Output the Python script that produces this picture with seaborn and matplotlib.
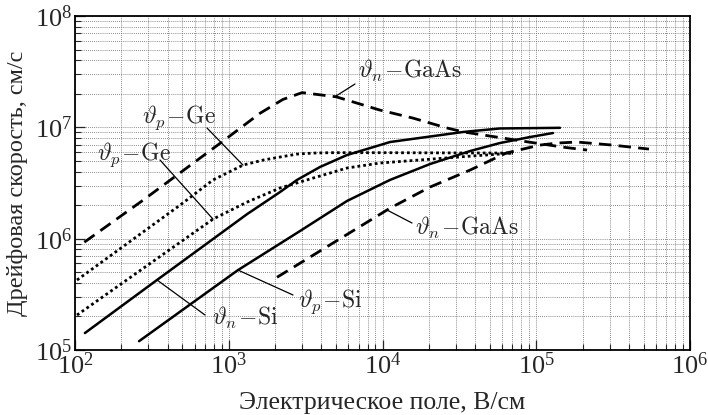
import numpy as np
import pandas as pd
import matplotlib
matplotlib.use("Agg")
import matplotlib.pyplot as plt
import seaborn as sns

# Electric field (V/cm) and drift velocity (cm/s) for each curve
gaas_n_upper_E = [115, 275, 880, 1600, 2250, 3000, 5000, 9600, 15800, 26000, 33500, 88000, 154000, 214000]
gaas_n_upper_v = [9.3e5, 2.2e6, 7.2e6, 1.34e7, 1.78e7, 2.05e7, 1.88e7, 1.43e7, 1.21e7, 9.9e6, 9.1e6, 7.4e6, 6.6e6, 6.25e6]

gaas_n_lower_E = [2060, 11200, 20400, 37100, 63500, 105700, 138400, 184100, 311200, 540800]
gaas_n_lower_v = [4.5e5, 1.88e6, 2.91e6, 4.13e6, 5.87e6, 6.93e6, 7.23e6, 7.38e6, 6.93e6, 6.38e6]

ge_upper_E = [103, 482, 791, 1239, 1671, 2153, 2780, 3532, 4560, 9638, 70600]
ge_upper_v = [4.25e5, 2.0e6, 3.37e6, 4.58e6, 5.08e6, 5.41e6, 5.75e6, 5.87e6, 5.92e6, 5.92e6, 5.87e6]

ge_lower_E = [103, 791, 1315, 2153, 3532, 5875, 9638, 33400, 70600]
ge_lower_v = [2.06e5, 1.5e6, 2.13e6, 2.85e6, 3.5e6, 4.31e6, 4.78e6, 5.45e6, 5.87e6]

si_n_E = [116, 341, 1315, 2153, 2780, 3917, 5875, 9638, 11190, 33400, 58000, 142600]
si_n_v = [1.42e5, 4.25e5, 1.66e6, 2.62e6, 3.37e6, 4.4e6, 5.64e6, 6.93e6, 7.38e6, 9.08e6, 9.77e6, 9.9e6]

si_p_E = [261, 1148, 2904, 5875, 11190, 20370, 37070, 58070, 90990, 128500]
si_p_v = [1.2e5, 5.22e5, 1.17e6, 2.18e6, 3.37e6, 4.68e6, 6.12e6, 7.23e6, 8.18e6, 8.89e6]

x_label = "Электрическое поле, В/см"
y_label = "Дрейфовая скорость, см/с"

sns.set_style("ticks")
plt.rcParams["mathtext.fontset"] = "cm"
plt.rcParams["font.family"] = ["Liberation Serif", "DejaVu Serif"]

fig = plt.figure(figsize=(7.08, 4.15), dpi=100)
ax = fig.add_axes([75 / 708, 1 - 350 / 415, 615 / 708, 334 / 415])

dash = (0, (4.5, 2.6))
dots = (0, (1.0, 1.1))
curves = [
    (gaas_n_upper_E, gaas_n_upper_v, dash, 2.0),
    (gaas_n_lower_E, gaas_n_lower_v, dash, 2.0),
    (ge_upper_E, ge_upper_v, dots, 2.0),
    (ge_lower_E, ge_lower_v, dots, 2.0),
    (si_n_E, si_n_v, "-", 1.8),
    (si_p_E, si_p_v, "-", 1.8),
]
for E, v, ls, lw in curves:
    df = pd.DataFrame({"E": E, "v": v})
    sns.lineplot(data=df, x="E", y="v", ax=ax, color="black", lw=lw,
                 linestyle=ls, estimator=None, sort=False)

ax.set_xscale("log")
ax.set_yscale("log")
ax.set_xlim(1e2, 1e6)
ax.set_ylim(1e5, 1e8)

ax.xaxis.set_major_locator(matplotlib.ticker.LogLocator(base=10, numticks=10))
ax.yaxis.set_major_locator(matplotlib.ticker.LogLocator(base=10, numticks=10))
ax.xaxis.set_minor_locator(matplotlib.ticker.LogLocator(base=10, subs=np.arange(2, 10), numticks=20))
ax.yaxis.set_minor_locator(matplotlib.ticker.LogLocator(base=10, subs=np.arange(2, 10), numticks=20))
ax.xaxis.set_minor_formatter(matplotlib.ticker.NullFormatter())
ax.yaxis.set_minor_formatter(matplotlib.ticker.NullFormatter())

ax.grid(which="both", color="0.4", lw=0.6, linestyle=(0, (1, 1.5)))
ax.tick_params(which="both", direction="in", top=False, right=False, labelsize=19)
ax.tick_params(which="major", length=7, width=0.9, pad=2)
ax.tick_params(which="minor", length=4.5, width=0.8)
for s in ax.spines.values():
    s.set_linewidth(1.3)
    s.set_color("black")

ax.set_xlabel(x_label, fontsize=18.5)
ax.set_ylabel(y_label, fontsize=17.5)
ax.xaxis.set_label_coords(0.5, -0.125)
ax.yaxis.set_label_coords(-0.076, 0.5)


def frac(px, py):
    # pixel-style layout position -> axes fraction
    return ((px - 75) / 615, (350 - py) / 334)


def on_curve(E, v, x):
    return x, 10 ** np.interp(np.log10(x), np.log10(E), np.log10(v))


def px_to_E(px):
    return 10 ** (2 + (px - 75) / 153.75)


labels = [
    (r"$\vartheta_n\!-\!\mathrm{GaAs}$", (358, 78), (355, 84), gaas_n_upper_E, gaas_n_upper_v, 335),
    (r"$\vartheta_n\!-\!\mathrm{GaAs}$", (415, 235), (412, 223), gaas_n_lower_E, gaas_n_lower_v, 387),
    (r"$\vartheta_p\!-\!\mathrm{Ge}$", (142, 123), (207, 128), ge_upper_E, ge_upper_v, 243),
    (r"$\vartheta_p\!-\!\mathrm{Ge}$", (97, 160), (160, 160), ge_lower_E, ge_lower_v, 213),
    (r"$\vartheta_n\!-\!\mathrm{Si}$", (212, 325), (205, 315), si_n_E, si_n_v, 157),
    (r"$\vartheta_p\!-\!\mathrm{Si}$", (298, 307), (293, 295), si_p_E, si_p_v, 238),
]
for text, tpos, lstart, E, v, tip_px in labels:
    ax.text(*frac(*tpos), text, transform=ax.transAxes, fontsize=17,
            ha="left", va="baseline")
    tip = on_curve(E, v, px_to_E(tip_px))
    ax.annotate("", xy=tip, xycoords="data", xytext=frac(*lstart),
                textcoords="axes fraction",
                arrowprops=dict(arrowstyle="-", lw=0.9, color="black",
                                shrinkA=0, shrinkB=0))

fig.savefig("out.png", dpi=100)
